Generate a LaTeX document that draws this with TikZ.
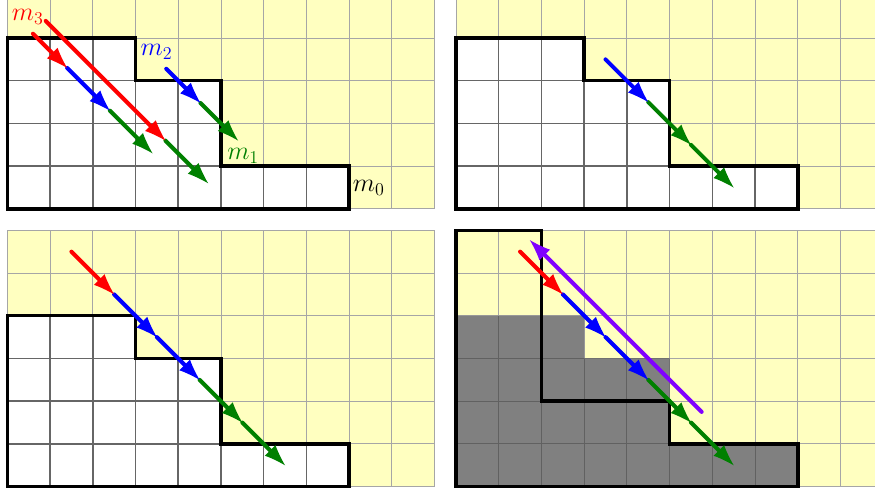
\documentclass[tikz,border=0pt]{standalone}
\usetikzlibrary{arrows.meta}
\definecolor{bgyellow}{RGB}{255,255,192}
\definecolor{mgreen}{RGB}{0,128,0}
\definecolor{mviolet}{RGB}{128,0,255}
\tikzset{
  gridy/.style={draw=black!35, line width=0.6pt},
  gridw/.style={draw=black!60, line width=1pt},
  gridg/.style={draw=black!62, line width=0.7pt},
  outline/.style={draw=black, line width=2.3pt, line join=miter},
  arr/.style={line width=2.7pt, line cap=round, -{Latex[length=14pt,width=10pt,line width=0pt]}},
  lab/.style={inner sep=0pt, font=\LARGE},
}
\newcommand\youngA[1]{\path[#1] (0,0)--(8,0)--(8,1)--(5,1)--(5,3)--(3,3)--(3,4)--(0,4)--cycle;}
\newcommand\youngB[1]{\path[#1] (0,0)--(8,0)--(8,1)--(5,1)--(5,2)--(2,2)--(2,6)--(0,6)--cycle;}
\newcommand\basepanel[1]{\fill[bgyellow] (0,0) rectangle (10,#1); \draw[gridy] (0,0) grid (10,#1);}
\newcommand\whitediagram[1]{%
  \youngA{fill=white}
  \begin{scope}\youngA{clip}\draw[gridw] (0,0) grid (10,#1);\end{scope}
  \youngA{outline}}
\begin{document}
\begin{tikzpicture}
\useasboundingbox (-0.171,-0.147) rectangle (20.307,11.39);
\fill[white] (-0.171,-0.147) rectangle (20.307,11.39);
\clip (-0.171,-0.147) rectangle (20.307,11.39);

% ---------- panel 1 (top left)
\begin{scope}[shift={(0,6.5)}]
  \basepanel{5}
  \whitediagram{5}
  \coordinate (pa1) at (0.6,4.1);
  \coordinate (pa2) at (1.4,3.3);
  \coordinate (pa3) at (2.4,2.3);
  \coordinate (pa4) at (3.4,1.3);
  \coordinate (pb1) at (0.9,4.4);
  \coordinate (pb2) at (3.7,1.6);
  \coordinate (pb3) at (4.7,0.6);
  \coordinate (pc1) at (3.72,3.28);
  \coordinate (pc2) at (4.52,2.48);
  \coordinate (pc3) at (5.4,1.6);
  \draw[arr,mgreen] (pa3) -- (pa4);
  \draw[arr,blue] (pa2) -- (pa3);
  \draw[arr,red] (pa1) -- (pa2);
  \draw[arr,mgreen] (pb2) -- (pb3);
  \draw[arr,red] (pb1) -- (pb2);
  \draw[arr,mgreen] (pc2) -- (pc3);
  \draw[arr,blue] (pc1) -- (pc2);
  \node[lab,text=red] (m3) at (0.48,4.49) {$m_3$};
  \node[lab,text=blue] (m2) at (3.49,3.67) {$m_2$};
  \node[lab,text=mgreen] (m1) at (5.52,1.25) {$m_1$};
  \node[lab,text=black] (m0) at (8.46,0.5) {$m_0$};
\end{scope}

% ---------- panel 2 (top right)
\begin{scope}[shift={(10.5,6.5)}]
  \basepanel{5}
  \whitediagram{5}
  \coordinate (qa1) at (3.5,3.5);
  \coordinate (qa2) at (4.5,2.5);
  \coordinate (qa3) at (5.5,1.5);
  \coordinate (qa4) at (6.5,0.5);
  \draw[arr,mgreen] (qa3) -- (qa4);
  \draw[arr,mgreen] (qa2) -- (qa3);
  \draw[arr,blue] (qa1) -- (qa2);
\end{scope}

% ---------- panel 3 (bottom left)
\begin{scope}[shift={(0,0)}]
  \basepanel{6}
  \whitediagram{6}
  \coordinate (ra1) at (1.5,5.5);
  \coordinate (ra2) at (2.5,4.5);
  \coordinate (ra3) at (3.5,3.5);
  \coordinate (ra4) at (4.5,2.5);
  \coordinate (ra5) at (5.5,1.5);
  \coordinate (ra6) at (6.5,0.5);
  \draw[arr,mgreen] (ra5) -- (ra6);
  \draw[arr,mgreen] (ra4) -- (ra5);
  \draw[arr,blue] (ra3) -- (ra4);
  \draw[arr,blue] (ra2) -- (ra3);
  \draw[arr,red] (ra1) -- (ra2);
\end{scope}

% ---------- panel 4 (bottom right)
\begin{scope}[shift={(10.5,0)}]
  \basepanel{6}
  \youngA{fill=black!50}
  \begin{scope}\youngA{clip}\draw[gridg] (0,0) grid (10,6);\end{scope}
  \youngB{outline}
  \coordinate (sa1) at (1.5,5.5);
  \coordinate (sa2) at (2.5,4.5);
  \coordinate (sa3) at (3.5,3.5);
  \coordinate (sa4) at (4.5,2.5);
  \coordinate (sa5) at (5.5,1.5);
  \coordinate (sa6) at (6.5,0.5);
  \coordinate (sv1) at (5.75,1.75);
  \coordinate (sv2) at (1.73,5.77);
  \draw[arr,mgreen] (sa5) -- (sa6);
  \draw[arr,mgreen] (sa4) -- (sa5);
  \draw[arr,blue] (sa3) -- (sa4);
  \draw[arr,blue] (sa2) -- (sa3);
  \draw[arr,red] (sa1) -- (sa2);
  \draw[arr,mviolet] (sv1) -- (sv2);
\end{scope}
\end{tikzpicture}
\end{document}
